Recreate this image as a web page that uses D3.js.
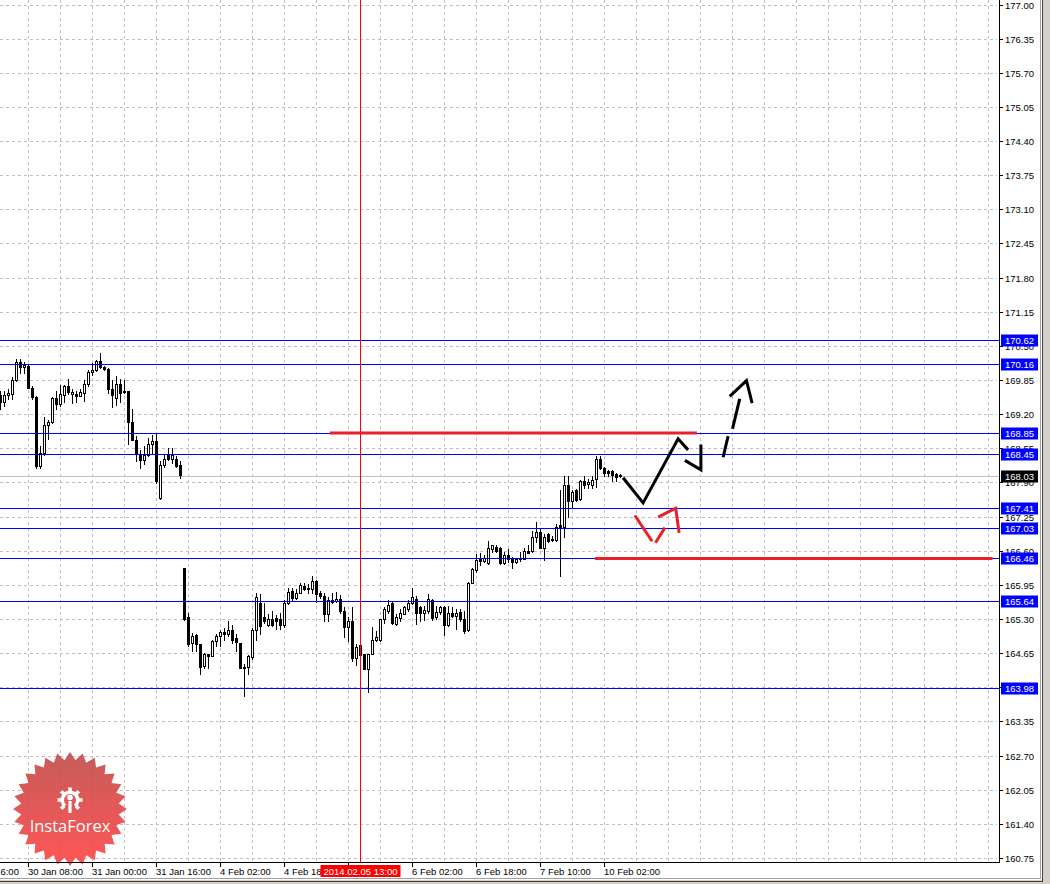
<!DOCTYPE html>
<html><head><meta charset="utf-8">
<script src="https://cdn.jsdelivr.net/npm/d3@7"></script>
<style>
html,body{margin:0;padding:0;background:#fff;overflow:hidden}
svg{display:block}
text{font-family:"Liberation Sans",Arial,sans-serif}
</style></head><body>
<svg id="chart" width="1050" height="884"></svg>
<script>
// ---------------- DATA ----------------
// hourly candles, index 0..155 (bar index = position on the time axis)
const open = [
169.57,169.43,169.57,169.58,169.86,170.19,170.10,170.12,169.70,169.53,
168.22,168.47,169.00,169.05,169.51,169.40,169.57,169.73,169.59,169.58,
169.55,169.60,169.78,170.00,170.05,170.21,170.10,170.06,169.68,169.51,
169.78,169.65,169.65,169.06,168.70,168.44,168.32,168.43,168.63,168.69,
167.60,168.24,168.43,168.35,168.34,168.23,
166.27,165.33,164.85,164.99,164.82,164.41,164.64,164.60,164.88,164.97,
165.05,165.02,165.09,164.93,164.85,164.39,164.39,164.58,165.09,165.61,
165.33,165.19,165.30,165.31,165.30,165.19,165.60,165.84,165.70,165.80,
165.93,165.90,165.87,166.03,165.79,165.73,165.39,165.66,165.65,165.69,
165.45,165.14,165.26,164.55,164.80,164.63,164.35,164.63,164.90,164.90,
165.30,165.45,165.61,165.21,165.31,165.40,165.50,165.61,165.69,165.52,
165.42,165.45,165.66,165.33,165.44,165.52,165.19,165.42,165.35,165.44,
165.30,165.09,165.99,166.24,166.45,166.41,166.36,166.63,166.68,166.65,
166.37,166.51,166.45,166.39,166.47,166.44,166.60,166.60,166.87,166.95,
166.66,166.91,166.82,166.81,167.09,167.06,167.85,167.54,167.75,167.59,
167.92,167.88,167.86,167.97,168.35,168.17,168.11,168.11,168.06,168.04];
const high = [
169.64,169.64,169.67,169.91,170.25,170.25,170.19,170.16,169.73,169.54,
168.60,169.15,169.09,169.53,169.64,169.76,169.76,169.87,169.68,169.64,
169.67,169.86,170.04,170.18,170.24,170.37,170.11,170.08,169.86,169.92,
169.87,169.86,169.65,169.29,168.78,168.52,168.59,168.75,168.81,168.82,
168.30,168.43,168.55,168.55,168.40,168.30,
166.28,165.42,165.03,165.01,164.82,164.66,164.64,164.91,165.01,165.10,
165.12,165.26,165.18,165.01,164.85,164.45,164.61,165.12,165.80,165.77,
165.61,165.39,165.45,165.37,165.42,165.66,165.90,165.90,165.87,165.99,
165.99,165.96,166.11,166.05,165.84,165.80,165.71,165.80,165.82,165.75,
165.52,165.33,165.52,164.82,164.82,164.63,164.63,165.14,165.07,165.30,
165.52,165.66,165.65,165.39,165.49,165.55,165.66,165.90,165.74,165.55,
165.55,165.77,165.68,165.55,165.55,165.55,165.55,165.52,165.50,165.50,
165.45,166.01,166.28,166.54,166.56,166.52,166.79,166.71,166.71,166.68,
166.57,166.63,166.49,166.47,166.57,166.66,166.71,166.98,167.14,167.01,
166.92,166.93,166.89,167.11,167.75,168.02,168.02,167.75,167.78,167.94,
168.02,167.97,168.02,168.41,168.41,168.19,168.13,168.13,168.08,168.06];
const low = [
169.29,169.35,169.48,169.48,169.83,169.98,169.98,169.70,169.48,168.17,
168.17,168.43,168.73,169.03,169.30,169.35,169.44,169.59,169.41,169.43,
169.54,169.46,169.73,169.95,170.02,170.08,170.05,169.60,169.34,169.38,
169.44,169.60,168.64,168.70,168.30,168.17,168.25,168.40,168.45,167.89,
167.58,168.20,168.33,168.28,168.19,167.98,
165.29,164.79,164.69,164.69,164.25,164.37,164.37,164.60,164.79,164.79,
164.91,164.98,164.85,164.69,164.37,163.83,164.25,164.53,164.91,165.01,
165.23,165.17,165.17,165.11,165.11,165.15,165.58,165.65,165.68,165.79,
165.86,165.80,165.79,165.63,165.70,165.26,165.26,165.61,165.63,165.42,
164.95,164.88,164.51,164.42,164.60,164.34,163.91,164.63,164.88,164.88,
165.23,165.42,165.21,165.19,165.26,165.39,165.45,165.58,165.20,165.26,
165.28,165.42,165.28,165.30,165.39,165.00,165.17,165.33,165.11,165.26,
165.03,165.07,165.98,166.20,166.33,166.39,166.35,166.57,166.58,166.35,
166.35,166.39,166.28,166.37,166.41,166.44,166.55,166.57,166.76,166.65,
166.43,166.77,166.79,166.79,166.12,166.86,167.24,167.41,167.54,167.57,
167.80,167.79,167.80,167.81,168.15,168.03,168.03,167.92,167.92,168.00];
const close = [
169.43,169.57,169.60,169.86,170.19,170.10,170.14,169.70,169.53,168.22,
168.47,169.00,169.05,169.51,169.40,169.59,169.73,169.62,169.62,169.55,
169.62,169.78,170.00,170.05,170.21,170.10,170.06,169.67,169.57,169.78,
169.60,169.62,169.06,168.70,168.45,168.32,168.43,168.63,168.69,167.93,
168.24,168.35,168.35,168.43,168.22,168.05,
165.30,164.82,164.97,164.82,164.39,164.64,164.60,164.88,164.98,165.05,
165.02,165.09,164.90,164.86,164.37,164.37,164.60,165.09,165.71,165.17,
165.26,165.30,165.19,165.26,165.19,165.61,165.82,165.70,165.80,165.94,
165.88,165.87,166.03,165.77,165.73,165.39,165.66,165.63,165.69,165.45,
165.14,165.26,164.55,164.77,164.61,164.34,164.63,164.90,164.95,165.30,
165.49,165.57,165.22,165.33,165.42,165.52,165.61,165.71,165.42,165.42,
165.47,165.68,165.31,165.44,165.52,165.19,165.42,165.35,165.42,165.30,
165.07,165.99,166.25,166.43,166.41,166.47,166.65,166.70,166.60,166.37,
166.51,166.45,166.39,166.45,166.44,166.60,166.56,166.87,166.95,166.66,
166.87,166.79,166.80,167.06,167.06,167.85,167.54,167.71,167.57,167.92,
167.86,167.90,167.94,168.35,168.17,168.08,168.08,168.05,168.00,168.03];

// price axis tick labels
const priceTicks = ["160.75","161.40","162.05","162.70","163.35","164.00","164.65","165.30",
  "165.95","166.60","167.25","167.90","168.55","169.20","169.85","170.50","171.15","171.80",
  "172.45","173.10","173.75","174.40","175.05","175.70","176.35","177.00"];
// time axis labels (bar index of each label)
const timeIdx    = [-9, 7, 23, 39, 55, 71, 87, 103, 119, 135, 151];
const timeLabels = ["29 Jan 16:00","30 Jan 08:00","31 Jan 00:00","31 Jan 16:00","4 Feb 02:00",
  "4 Feb 18:00","5 Feb 10:00","6 Feb 02:00","6 Feb 18:00","7 Feb 10:00","10 Feb 02:00"];
// vertical grid every 8 bars
const gridIdx = [7,15,23,31,39,47,55,63,71,79,87,95,103,111,119,127,135,143,151,159,167,175,
  183,191,199,207,215,223,231,239,247];
// horizontal levels
const levels = [170.62, 170.16, 168.85, 168.45, 167.41, 167.03, 166.46, 165.64, 163.98];
const currentPrice = 168.03;
const markerIdx = 90, markerLabel = "2014.02.05 13:00";
// thick red support / resistance segments [fromIdx, toIdx, price]
const redSegFrom  = [82.3, 148.6];
const redSegTo    = [174.1, 248.0];
const redSegPrice = [168.85, 166.46];
// hand-drawn forecast strokes: [barIndex, price]
const blackStrokes = [
  [[155.65,168.00],[160.65,167.52],[169.4,168.74],[171.9,168.53]],
  [[171.1,168.33],[175.1,168.15],[175.1,168.63]],
  [[180.65,168.39],[181.9,168.79]],
  [[183.0,168.93],[184.8,169.50]],
  [[182.3,169.55],[186.5,169.85],[187.9,169.42]]
];
const redStrokes = [
  [[158.6,167.28],[162.9,166.79]],
  [[163.75,166.76],[166.1,167.05]],
  [[164.4,167.25],[168.8,167.42],[169.65,166.95]]
];

// ---------------- DRAW ----------------
const svg = d3.select("#chart");
const plotR = 999, plotB = 862;
const x = d3.scaleLinear().domain([0, 1]).range([0.5, 4.5]);
const y = d3.scaleLinear().domain([160.75, 177]).range([858.5, 5]);
const cr = v => Math.floor(v) + 0.5;
const FONT = "9.5px";

svg.append("rect").attr("width", 1050).attr("height", 884).attr("fill", "#fff");

svg.append("defs").append("clipPath").attr("id", "plot")
  .append("rect").attr("x", 0).attr("y", 0).attr("width", plotR).attr("height", plotB);

const plot = svg.append("g").attr("clip-path", "url(#plot)");

// grid
plot.append("g").selectAll("line").data(priceTicks).join("line")
  .attr("x1", 0).attr("x2", 997)
  .attr("y1", d => cr(y(+d))).attr("y2", d => cr(y(+d)))
  .attr("stroke", "#c0c0c0").attr("stroke-dasharray", "3,3");
plot.append("g").selectAll("line").data(gridIdx).join("line")
  .attr("x1", d => cr(x(d))).attr("x2", d => cr(x(d)))
  .attr("y1", 0).attr("y2", plotB)
  .attr("stroke", "#c0c0c0").attr("stroke-dasharray", "3,3");

// current price line
plot.append("line").attr("x1", 0).attr("x2", plotR)
  .attr("y1", cr(y(currentPrice))).attr("y2", cr(y(currentPrice)))
  .attr("stroke", "#c0c0c0");

// candles
const idx = d3.range(open.length);
const cg = plot.append("g");
cg.selectAll("line.wick").data(idx).join("line").attr("class", "wick")
  .attr("x1", i => cr(x(i))).attr("x2", i => cr(x(i)))
  .attr("y1", i => Math.floor(y(high[i]))).attr("y2", i => Math.floor(y(low[i])) + 1)
  .attr("stroke", "#000").attr("stroke-width", 1);
cg.selectAll("rect.body").data(idx).join("rect").attr("class", "body")
  .attr("x", i => cr(x(i)) - 1)
  .attr("width", 2)
  .attr("y", i => cr(y(Math.max(open[i], close[i]))))
  .attr("height", i => Math.max(0, cr(y(Math.min(open[i], close[i]))) - cr(y(Math.max(open[i], close[i])))))
  .attr("fill", i => close[i] >= open[i] ? "#fff" : "#000")
  .attr("stroke", "#000").attr("stroke-width", 1);

// level lines
plot.append("g").selectAll("line").data(levels).join("line")
  .attr("x1", 0).attr("x2", plotR)
  .attr("y1", d => cr(y(d))).attr("y2", d => cr(y(d)))
  .attr("stroke", "#0000ff");

// red vertical marker
plot.append("line").attr("x1", cr(x(markerIdx))).attr("x2", cr(x(markerIdx)))
  .attr("y1", 0).attr("y2", plotB).attr("stroke", "#ff0000");

// thick red segments
plot.append("g").selectAll("line").data(redSegPrice).join("line")
  .attr("x1", (d, i) => x(redSegFrom[i])).attr("x2", (d, i) => x(redSegTo[i]))
  .attr("y1", d => y(d)).attr("y2", d => y(d))
  .attr("stroke", "#e8202a").attr("stroke-width", 3);

// hand-drawn strokes
const lineGen = d3.line().x(d => x(d[0])).y(d => y(d[1]));
plot.append("g").selectAll("path").data(blackStrokes).join("path")
  .attr("d", lineGen).attr("fill", "none").attr("stroke", "#000")
  .attr("stroke-width", 3).attr("stroke-linejoin", "miter");
plot.append("g").selectAll("path").data(redStrokes).join("path")
  .attr("d", lineGen).attr("fill", "none").attr("stroke", "#e8202a")
  .attr("stroke-width", 3).attr("stroke-linejoin", "miter");

// ---------- logo ----------
const logo = svg.append("g").attr("transform", "translate(70,809)").attr("opacity", 0.88);
const grad = svg.select("defs").append("linearGradient").attr("id", "lg")
  .attr("x1", 0).attr("y1", 0).attr("x2", 0).attr("y2", 1);
grad.append("stop").attr("offset", "0%").attr("stop-color", "#bf4644");
grad.append("stop").attr("offset", "100%").attr("stop-color", "#ff3f3f");
const nSp = 28, rO = 57, rI = 49;
const starPts = d3.range(nSp * 2).map(j => {
  const a = j * Math.PI / nSp - Math.PI / 2;
  const r = j % 2 === 0 ? rO : rI;
  return [r * Math.cos(a), r * Math.sin(a)];
});
logo.append("path").attr("d", d3.line()(starPts) + "Z").attr("fill", "url(#lg)");
const icon = logo.append("g").attr("transform", "translate(0,-9)").attr("fill", "#fff");
icon.append("path").attr("d", d3.arc().innerRadius(6).outerRadius(9.5)
  .startAngle(-0.78 * Math.PI).endAngle(0.78 * Math.PI)());
d3.range(-3, 4).forEach(t => {
  const a = t * Math.PI / 4;
  icon.append("rect").attr("x", -1.8).attr("y", -12.5).attr("width", 3.6).attr("height", 4)
    .attr("transform", `rotate(${a * 180 / Math.PI})`);
});
icon.append("circle").attr("cx", 0).attr("cy", -2.5).attr("r", 2.8);
icon.append("rect").attr("x", -1.6).attr("y", 1).attr("width", 3.2).attr("height", 12);
logo.append("text").attr("x", 0).attr("y", 23).attr("text-anchor", "middle")
  .attr("fill", "#fff").style("font-family", "'Open Sans',sans-serif").style("font-size", "16.5px")
  .text("InstaForex");

// ---------- axes ----------
svg.append("line").attr("x1", plotR + 0.5).attr("x2", plotR + 0.5).attr("y1", 0).attr("y2", plotB + 1)
  .attr("stroke", "#000");
svg.append("line").attr("x1", 0).attr("x2", plotR + 1).attr("y1", plotB + 0.5).attr("y2", plotB + 0.5)
  .attr("stroke", "#000");

// price ticks
const pa = svg.append("g");
pa.selectAll("line").data(priceTicks).join("line")
  .attr("x1", plotR + 1).attr("x2", plotR + 4)
  .attr("y1", d => cr(y(+d))).attr("y2", d => cr(y(+d))).attr("stroke", "#000");
pa.selectAll("text").data(priceTicks).join("text")
  .attr("x", 1005).attr("y", d => y(+d) + 3.5)
  .style("font-size", FONT).attr("fill", "#000").text(d => d);

// time ticks
const ta = svg.append("g");
ta.selectAll("line").data(timeIdx).join("line")
  .attr("x1", d => cr(x(d))).attr("x2", d => cr(x(d)))
  .attr("y1", plotB + 1).attr("y2", plotB + 5).attr("stroke", "#000");
ta.selectAll("text").data(timeLabels).join("text")
  .attr("x", (d, i) => x(timeIdx[i]) - 0.5).attr("y", 875)
  .style("font-size", FONT).attr("fill", "#000").text(d => d);

// marker label on time axis
const mx = cr(x(markerIdx));
svg.append("rect").attr("x", mx - 40).attr("y", 865).attr("width", 80).attr("height", 12).attr("fill", "#ff0000");
svg.append("text").attr("x", mx).attr("y", 875).attr("text-anchor", "middle")
  .style("font-size", FONT).attr("fill", "#fff").text(markerLabel);

// price boxes
const boxes = levels.map(v => ({v, bg: "#0000ff"})).concat([{v: currentPrice, bg: "#000"}]);
const bg = svg.append("g").selectAll("g").data(boxes).join("g")
  .attr("transform", d => `translate(1001,${cr(y(d.v))})`);
bg.append("rect").attr("x", 0).attr("y", -6).attr("width", 37).attr("height", 12).attr("fill", d => d.bg);
bg.append("text").attr("x", 4).attr("y", 3.5).style("font-size", FONT).attr("fill", "#fff")
  .text(d => d.v.toFixed(2));

// window frame
svg.append("rect").attr("x", 1042).attr("y", 0).attr("width", 8).attr("height", 884).attr("fill", "#d4d0c8");
svg.append("rect").attr("x", 0).attr("y", 880).attr("width", 1050).attr("height", 4).attr("fill", "#d4d0c8");
svg.append("line").attr("x1", 1040.5).attr("x2", 1040.5).attr("y1", 0).attr("y2", 879).attr("stroke", "#a0a0a0");
svg.append("line").attr("x1", 0).attr("x2", 1041).attr("y1", 878.5).attr("y2", 878.5).attr("stroke", "#a0a0a0");
svg.append("line").attr("x1", 1042.5).attr("x2", 1042.5).attr("y1", 0).attr("y2", 882).attr("stroke", "#404040");
svg.append("line").attr("x1", 0).attr("x2", 1043).attr("y1", 881.5).attr("y2", 881.5).attr("stroke", "#404040");
</script>
</body></html>
